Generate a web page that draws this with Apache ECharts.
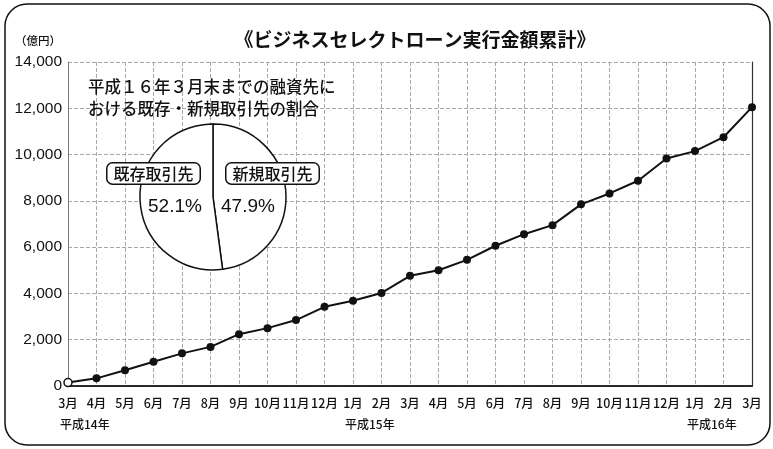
<!DOCTYPE html>
<html>
<head>
<meta charset="utf-8">
<script src="https://cdn.jsdelivr.net/npm/echarts@6/dist/echarts.min.js"></script>
<style>
  html, body { margin: 0; padding: 0; background: #fff; }
  #main { width: 773px; height: 449px; }
</style>
</head>
<body>
<div id="main"></div>
<script>
var months = ['3月', '4月', '5月', '6月', '7月', '8月', '9月', '10月', '11月', '12月', '1月', '2月',
  '3月', '4月', '5月', '6月', '7月', '8月', '9月', '10月', '11月', '12月', '1月', '2月', '3月']
// 累計実行金額（億円）
var amounts = [150, 330, 680, 1050, 1410, 1690, 2240, 2500, 2850, 3420, 3680, 4020,
  4760, 5000, 5450, 6060, 6560, 6950, 7850, 8320, 8870, 9830, 10150, 10750, 12050]
var yearLabels = [
  { index: 0, text: '平成14年' },
  { index: 10, text: '平成15年' },
  { index: 22, text: '平成16年' }
]
var pieNames = ['新規取引先', '既存取引先']
var pieValues = [47.9, 52.1]
var noteLines = ['平成１６年３月末までの融資先に', 'おける既存・新規取引先の割合']

var FONT_JP = '"Noto Sans CJK JP", sans-serif'
var FONT_NUM = '"Liberation Sans", Arial, sans-serif'

var chart = echarts.init(document.getElementById('main'))

var lineData = amounts.map(function (v, i) {
  if (i === 0) {
    //最初の点は白抜き
    return { value: v, itemStyle: { color: '#fff', borderColor: '#111', borderWidth: 1.5 } }
  }
  return v
})

var gridLine = { show: true, lineStyle: { color: '#a8a8a8', type: 'dashed', width: 1 } }

var option = {
  animation: false,
  backgroundColor: '#fff',
  title: {
    text: '《ビジネスセレクトローン実行金額累計》',
    left: 410,
    top: 25,
    textAlign: 'center',
    textStyle: { fontFamily: FONT_JP, fontSize: 19, fontWeight: 'bold', color: '#111' }
  },
  grid: { left: 68, right: 21, top: 62, bottom: 63 },
  xAxis: [{
    type: 'category',
    data: months,
    boundaryGap: false,
    axisLine: { lineStyle: { color: '#111', width: 1.5 } },
    axisTick: { show: false },
    splitLine: gridLine,
    axisLabel: { color: '#111', fontFamily: FONT_JP, fontWeight: 500, fontSize: 12.5, margin: 11, interval: 0 }
  }, {
    type: 'category',
    data: months,
    boundaryGap: false,
    position: 'top',
    axisLine: { lineStyle: { color: '#222', width: 1.5 } },
    axisTick: { show: false },
    axisLabel: { show: false }
  }],
  yAxis: [{
    type: 'value',
    min: 0,
    max: 14000,
    interval: 2000,
    axisLine: { show: true, lineStyle: { color: '#777', width: 1 } },
    axisTick: { show: false },
    splitLine: gridLine,
    axisLabel: {
      color: '#111', fontFamily: FONT_NUM, fontSize: 15.5, margin: 6,
      formatter: function (v) { return v.toLocaleString('en-US') }
    }
  }, {
    type: 'value',
    min: 0,
    max: 14000,
    interval: 2000,
    position: 'right',
    axisLine: { show: true, lineStyle: { color: '#333', width: 1.2 } },
    axisTick: { show: false },
    splitLine: { show: false },
    axisLabel: { show: false }
  }],
  series: [{
    type: 'line',
    data: lineData,
    symbol: 'circle',
    symbolSize: 8,
    lineStyle: { color: '#111', width: 2 },
    itemStyle: { color: '#111' },
    z: 5
  }, {
    type: 'pie',
    center: [213, 197],
    radius: 73,
    startAngle: 90,
    clockwise: true,
    label: { show: false },
    labelLine: { show: false },
    itemStyle: { color: '#fff', borderColor: '#111', borderWidth: 1.5 },
    data: pieNames.map(function (n, i) { return { name: n, value: pieValues[i] } }),
    z: 3
  }]
}

chart.setOption(option)

// 年ラベル・注記などをグラフの座標から配置
var graphics = []
yearLabels.forEach(function (y) {
  var px = chart.convertToPixel({ xAxisIndex: 0 }, y.index)
  graphics.push({
    type: 'text', left: px - 8, top: 418, z: 10,
    style: { text: y.text, fill: '#111', font: '500 12px ' + FONT_JP }
  })
})
graphics.push({
  type: 'text', left: 15, top: 35, z: 10,
  style: { text: '（億円）', fill: '#111', font: '500 11.5px ' + FONT_JP }
})
graphics.push({
  type: 'text', left: 88, top: 76, z: 10,
  style: { text: noteLines.join('\n'), fill: '#111', font: '500 16.5px ' + FONT_JP, lineHeight: 22 }
})
// 円グラフのラベル枠
var boxes = [
  { name: pieNames[1], pct: pieValues[1], bx: 106, px: 148 },
  { name: pieNames[0], pct: pieValues[0], bx: 225, px: 221 }
]
boxes.forEach(function (b) {
  graphics.push({
    type: 'text', left: b.bx, top: 162, z: 10,
    style: {
      text: b.name, fill: '#111', font: '500 16px ' + FONT_JP,
      backgroundColor: '#fff', borderColor: '#111', borderWidth: 1.5, borderRadius: 5,
      padding: [2, 6, 2, 6]
    }
  })
  graphics.push({
    type: 'text', left: b.px, top: 197, z: 10,
    style: { text: b.pct.toFixed(1) + '%', fill: '#111', font: '19px ' + FONT_NUM }
  })
})
// 外枠
graphics.push({
  type: 'rect', z: 0, silent: true,
  shape: { x: 5, y: 4, width: 765, height: 441, r: 22 },
  style: { fill: 'none', stroke: '#111', lineWidth: 1.5 }
})

chart.setOption({ graphic: graphics })
</script>
</body>
</html>
